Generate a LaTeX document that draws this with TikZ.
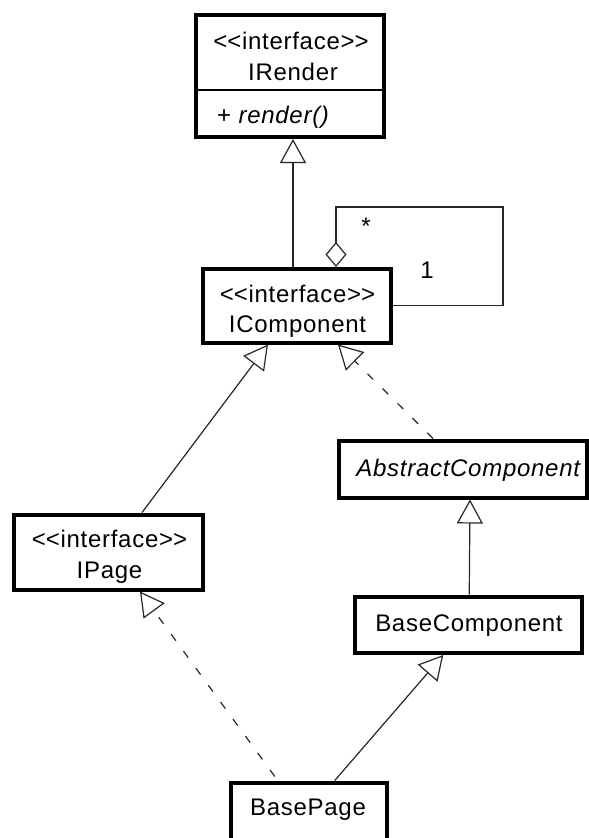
\documentclass[tikz,border=0pt]{standalone}
\usepackage{fontspec}
\setmainfont{Liberation Sans}[LetterSpace=3]
\usetikzlibrary{arrows.meta}
% stereotype text; the kerns keep << and >> from turning into guillemets
\newcommand{\umlstereo}{<\kern0pt<interface>\kern0pt>}
\begin{document}
\begin{tikzpicture}[x=1pt, y=-1pt,
  classbox/.style={draw, line width=4pt, rectangle, inner sep=0pt, fill=white},
  txt/.style={inner sep=0pt, font=\fontsize{24}{30}\selectfont, text height=17pt, text depth=0pt},
  conn/.style={line width=1.2pt, draw=black!85},
  gen/.style={conn, -{Triangle[open, length=24pt, width=26pt, line width=1.2pt]}},
  real/.style={gen, dash pattern=on 8pt off 13pt},
  agg/.style={conn, -{Diamond[open, length=25pt, width=21pt, line width=1.2pt]}},
]
\useasboundingbox (0,0) rectangle (589,838);

% class boxes
\node[classbox, minimum width=187.5pt, minimum height=122pt] (irender) at (289.75,76) {};
\node[classbox, minimum width=188pt, minimum height=73.5pt] (icomp) at (297,305.75) {};
\node[classbox, minimum width=188.5pt, minimum height=75pt] (ipage) at (108.25,552) {};
\node[classbox, minimum width=248pt, minimum height=57pt] (abscomp) at (463,469) {};
\node[classbox, minimum width=226.5pt, minimum height=56.5pt] (basecomp) at (468.25,624.75) {};
\node[classbox, minimum width=156.5pt, minimum height=80pt] (basepage) at (308.75,822.5) {};

% compartment line of IRender
\coordinate (irdiv) at (289.75,90);
\draw[line width=1.3pt] (irdiv -| irender.west) -- (irdiv -| irender.east);

% class texts
\node[txt] (irst) at (291,41) {\umlstereo};
\node[txt] (irname) at (293,71.5) {IRender};
\node[txt, anchor=west] (irop) at (217,115) {+ \textit{render()}};
\node[txt] (icst) at (297.5,294) {\umlstereo};
\node[txt] (icname) at (297.5,323.5) {IComponent};
\node[txt] (ipst) at (109.5,539) {\umlstereo};
\node[txt] (ipname) at (109.5,570) {IPage};
\node[txt] (absname) at (469,468) {\textit{AbstractComponent}};
\node[txt] (bcname) at (469,623) {BaseComponent};
\node[txt] (bpname) at (308,807) {BasePage};

% generalizations and realizations
\draw[gen] ([xshift=-4pt]icomp.north) -- ([xshift=3.25pt]irender.south);
\draw[gen] ([xshift=33.75pt]ipage.north) -- ([xshift=-29pt]icomp.south);
\draw[real] ([xshift=-30pt]abscomp.north) -- ([xshift=41pt]icomp.south);
\draw[gen] ([xshift=1pt]basecomp.north) -- ([xshift=7pt]abscomp.south);
\draw[real, shorten <=5pt] ([xshift=-31pt]basepage.north) -- ([xshift=31.75pt]ipage.south);
\draw[gen] ([xshift=26pt]basepage.north) -- ([xshift=-25pt]basecomp.south);

% self aggregation of IComponent
\coordinate (loopcorner) at (503,207);
\draw[agg] (icomp.east) -| (loopcorner) -| ([xshift=39pt]icomp.north);
\node[txt, text height=8pt] (mstar) at (366,230) {*};
\node[txt] (mone) at (427,270) {1};
\end{tikzpicture}
\end{document}
